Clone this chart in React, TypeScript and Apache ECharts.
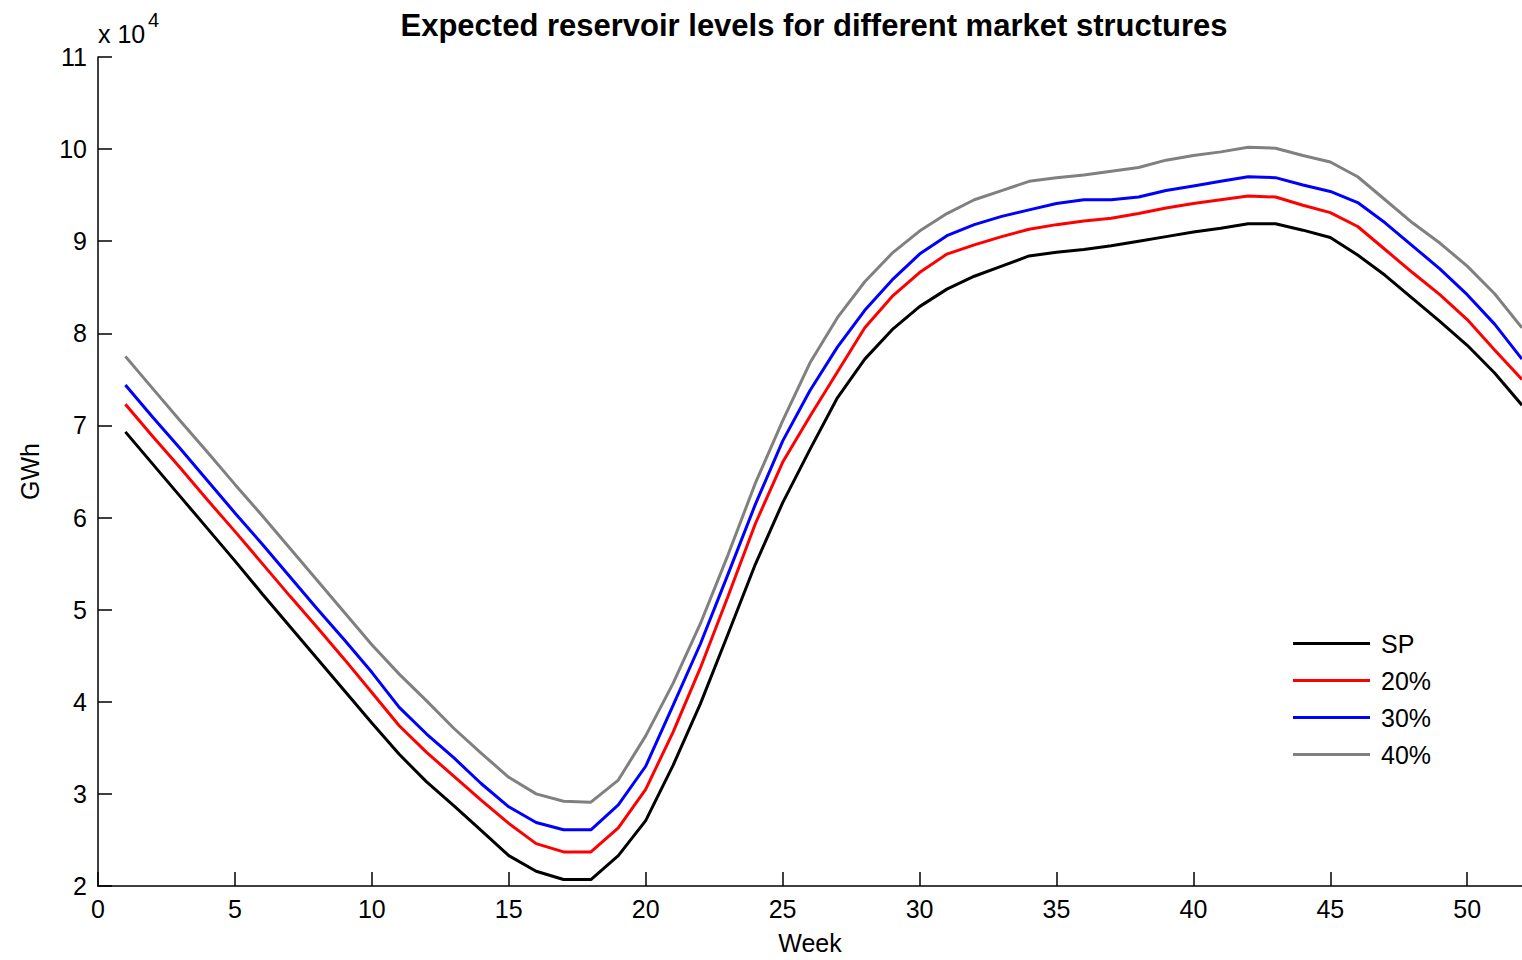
import React, { useEffect, useRef } from "react";
import * as echarts from "echarts";

const weeks = [1, 2, 3, 4, 5, 6, 7, 8, 9, 10, 11, 12, 13, 14, 15, 16, 17, 18, 19, 20, 21, 22, 23, 24, 25, 26, 27, 28, 29, 30, 31, 32, 33, 34, 35, 36, 37, 38, 39, 40, 41, 42, 43, 44, 45, 46, 47, 48, 49, 50, 51, 52];

// values in units of 10^4 GWh
const sp = [
  6.93, 6.58, 6.23, 5.88, 5.53, 5.17, 4.82, 4.47, 4.12, 3.77,
  3.43, 3.13, 2.87, 2.60, 2.33, 2.16, 2.07, 2.07, 2.33, 2.71,
  3.31, 3.98, 4.73, 5.49, 6.16, 6.74, 7.30, 7.72, 8.04, 8.29,
  8.48, 8.62, 8.73, 8.84, 8.88, 8.91, 8.95, 9.00, 9.05, 9.10,
  9.14, 9.19, 9.19, 9.12, 9.04, 8.85, 8.63, 8.38, 8.13, 7.87,
  7.57, 7.22,
];
const p20 = [
  7.23, 6.88, 6.54, 6.19, 5.85, 5.50, 5.15, 4.81, 4.46, 4.10,
  3.74, 3.45, 3.19, 2.93, 2.68, 2.46, 2.37, 2.37, 2.63, 3.05,
  3.67, 4.37, 5.14, 5.93, 6.60, 7.10, 7.58, 8.06, 8.40, 8.66,
  8.86, 8.96, 9.05, 9.13, 9.18, 9.22, 9.25, 9.30, 9.36, 9.41,
  9.45, 9.49, 9.48, 9.39, 9.31, 9.16, 8.91, 8.66, 8.42, 8.15,
  7.82, 7.50,
];
const p30 = [
  7.44, 7.09, 6.75, 6.40, 6.05, 5.71, 5.36, 5.01, 4.67, 4.32,
  3.94, 3.65, 3.39, 3.11, 2.86, 2.69, 2.61, 2.61, 2.88, 3.30,
  3.96, 4.63, 5.38, 6.14, 6.83, 7.38, 7.85, 8.25, 8.58, 8.86,
  9.06, 9.18, 9.27, 9.34, 9.41, 9.45, 9.45, 9.48, 9.55, 9.60,
  9.65, 9.70, 9.69, 9.61, 9.54, 9.42, 9.20, 8.95, 8.70, 8.42,
  8.10, 7.72,
];
const p40 = [
  7.75, 7.40, 7.05, 6.71, 6.36, 6.02, 5.67, 5.32, 4.97, 4.62,
  4.30, 4.01, 3.71, 3.44, 3.18, 3.00, 2.92, 2.91, 3.15, 3.63,
  4.20, 4.85, 5.59, 6.37, 7.05, 7.68, 8.17, 8.56, 8.87, 9.11,
  9.30, 9.45, 9.55, 9.65, 9.69, 9.72, 9.76, 9.80, 9.88, 9.93,
  9.97, 10.02, 10.01, 9.93, 9.86, 9.70, 9.45, 9.20, 8.98, 8.73,
  8.43, 8.06,
];

const seriesNames = ["SP", "20%", "30%", "40%"];
const seriesColors = ["#000000", "#ff0000", "#0000ff", "#808080"];
const seriesValues = [sp, p20, p30, p40];

const FONT = '"Liberation Sans", Arial, sans-serif';

export default function App() {
  const ref = useRef<HTMLDivElement>(null);
  useEffect(() => {
    document.body.style.margin = "0";
    const chart = echarts.init(ref.current!, null, { renderer: "svg" });
    chart.setOption({
      animation: false,
      backgroundColor: "#ffffff",
      title: {
        text: "Expected reservoir levels for different market structures",
        left: 809,
        textAlign: "center",
        top: 5,
        textStyle: { fontFamily: FONT, fontSize: 31, fontWeight: "bold", color: "#000" },
      },
      legend: {
        orient: "vertical",
        left: 1288,
        top: 626,
        itemWidth: 77,
        itemHeight: 3,
        itemGap: 12,
        icon: "rect",
        data: seriesNames,
        textStyle: { fontFamily: FONT, fontSize: 25, color: "#000", lineHeight: 24, padding: [0, 0, 0, 6] },
      },
      grid: { left: 98, right: 0, top: 57, bottom: 73, containLabel: false },
      xAxis: {
        type: "value",
        min: 0,
        max: 52,
        interval: 5,
        name: "Week",
        nameLocation: "middle",
        nameGap: 44,
        nameTextStyle: { fontFamily: FONT, fontSize: 25, color: "#000" },
        axisLine: { show: true, lineStyle: { color: "#000", width: 1.5 } },
        axisTick: { show: true, inside: true, length: 14, lineStyle: { color: "#000", width: 1.5 } },
        axisLabel: { fontFamily: FONT, fontSize: 25, color: "#000", margin: 10, showMaxLabel: false },
        splitLine: { show: false },
      },
      yAxis: {
        type: "value",
        min: 2,
        max: 11,
        interval: 1,
        name: "GWh",
        nameLocation: "middle",
        nameGap: 56,
        nameRotate: 90,
        nameTextStyle: { fontFamily: FONT, fontSize: 25, color: "#000" },
        axisLine: { show: true, lineStyle: { color: "#000", width: 1.5 } },
        axisTick: { show: true, inside: true, length: 14, lineStyle: { color: "#000", width: 1.5 } },
        axisLabel: { fontFamily: FONT, fontSize: 25, color: "#000", margin: 11 },
        splitLine: { show: false },
      },
      graphic: [
        {
          type: "text",
          x: 98,
          y: 34,
          style: { text: "x 10", font: `25px ${FONT}`, fill: "#000", verticalAlign: "middle", align: "left" },
        },
        {
          type: "text",
          x: 148,
          y: 20,
          style: { text: "4", font: `20px ${FONT}`, fill: "#000", verticalAlign: "middle", align: "left" },
        },
      ],
      series: seriesNames.map((name, i) => ({
        name,
        type: "line",
        data: weeks.map((w, j) => [w, seriesValues[i][j]]),
        showSymbol: false,
        symbol: "none",
        lineStyle: { color: seriesColors[i], width: 3 },
        itemStyle: { color: seriesColors[i] },
        z: 10 - i,
      })),
    });
    return () => chart.dispose();
  }, []);
  return <div ref={ref} style={{ width: 1522, height: 960 }} />;
}
